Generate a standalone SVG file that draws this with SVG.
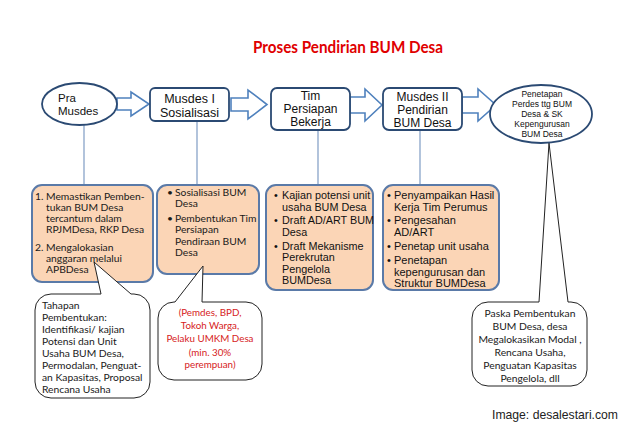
<svg xmlns="http://www.w3.org/2000/svg" width="640" height="428" viewBox="0 0 640 428">
<style>
.node{fill:#fff;stroke:#2b4a73;stroke-width:1.8}
.arr{fill:#fff;stroke:#4f81bd;stroke-width:1.6;stroke-linejoin:miter}
.conn{stroke:#7f9cc4;stroke-width:1.2;fill:none}
.box{fill:#fbd5b6;stroke:#5a7aa8;stroke-width:2}
.call{fill:#fff;stroke:#222;stroke-width:1}
.t{font-family:"Liberation Sans",Arial,sans-serif;fill:#111}
.c{font-family:Lato,"Open Sans",sans-serif;fill:#1a1a1a;font-size:10.3px}
.mid{text-anchor:middle}
</style>
<rect width="640" height="428" fill="#fff"/>
<text x="348" y="53" text-anchor="middle" font-family="Lato,'Liberation Sans',sans-serif" font-weight="bold" font-size="17.5" textLength="190" lengthAdjust="spacingAndGlyphs" fill="#e00000">Proses Pendirian BUM Desa</text>

<g id="connectors">
<line class="conn" x1="84" y1="125" x2="84" y2="186"/>
<line class="conn" x1="197" y1="121" x2="197" y2="186"/>
<line class="conn" x1="318" y1="130" x2="318" y2="186"/>
<line class="conn" x1="420" y1="130" x2="420" y2="186"/>
<path class="arr" d="M117,98 L131,98 L131,92 L149,104 L131,116 L131,110 L117,110 Z"/>
<path class="arr" d="M231,98 L248,98 L248,90 L267,104.5 L248,119 L248,111 L231,111 Z"/>
<path class="arr" d="M350,97 L365,97 L365,89 L382,105 L365,121 L365,113 L350,113 Z"/>
<path class="arr" d="M462,97 L478,97 L478,89 L496,105 L478,121 L478,113 L462,113 Z"/>
</g>

<g id="pra-musdes">
<ellipse class="node" cx="79.5" cy="104" rx="37.5" ry="21"/>
<text class="t" x="58" y="102" font-size="11.5">Pra</text>
<text class="t" x="58" y="115" font-size="11.5">Musdes</text>
</g>

<g id="musdes-1">
<rect class="node" x="150" y="88" width="79" height="33" rx="5"/>
<text class="t mid" x="189.5" y="102.5" font-size="12.5">Musdes I</text>
<text class="t mid" x="189.5" y="116.5" font-size="12.5">Sosialisasi</text>
</g>

<g id="tim-persiapan">
<rect class="node" x="271" y="88" width="79" height="42" rx="6"/>
<text class="t mid" x="310.5" y="100" font-size="12">Tim</text>
<text class="t mid" x="310.5" y="113" font-size="12">Persiapan</text>
<text class="t mid" x="310.5" y="126" font-size="12">Bekerja</text>
</g>

<g id="musdes-2">
<rect class="node" x="383" y="88" width="79" height="42" rx="6"/>
<text class="t mid" x="422.5" y="101" font-size="12">Musdes II</text>
<text class="t mid" x="422.5" y="114" font-size="12">Pendirian</text>
<text class="t mid" x="422.5" y="127" font-size="12">BUM Desa</text>
</g>

<g id="callout-paska">
<path class="call" d="M488,302 L539,302 L549,143 L568,302 L571,302 A16,16 0 0 1 587,318 L587,370 A16,16 0 0 1 571,386 L488,386 A16,16 0 0 1 472,370 L472,318 A16,16 0 0 1 488,302 Z"/>
<text class="c mid" x="530" y="317">Paska Pembentukan</text>
<text class="c mid" x="530" y="330">BUM Desa, desa</text>
<text class="c mid" x="530" y="343">Megalokasikan Modal ,</text>
<text class="c mid" x="530" y="356">Rencana Usaha,</text>
<text class="c mid" x="530" y="369">Penguatan Kapasitas</text>
<text class="c mid" x="530" y="382">Pengelola, dll</text>
</g>

<g id="penetapan">
<ellipse class="node" cx="541" cy="114" rx="51" ry="29" stroke-width="2"/>
<text class="t mid" x="542" y="97" font-size="8.5">Penetapan</text>
<text class="t mid" x="542" y="107" font-size="8.5">Perdes ttg BUM</text>
<text class="t mid" x="542" y="117" font-size="8.5">Desa &amp; SK</text>
<text class="t mid" x="542" y="127" font-size="8.5">Kepengurusan</text>
<text class="t mid" x="542" y="137" font-size="8.5">BUM Desa</text>
</g>

<g id="box-pra">
<rect class="box" x="32" y="185" width="121" height="97" rx="10"/>
<text class="c" x="35" y="200">1.</text>
<text class="c" x="46" y="200">Memastikan Pemben-</text>
<text class="c" x="46" y="211">tukan BUM Desa</text>
<text class="c" x="46" y="222">tercantum dalam</text>
<text class="c" x="46" y="233">RPJMDesa, RKP Desa</text>
<text class="c" x="35" y="251">2.</text>
<text class="c" x="46" y="251">Mengalokasian</text>
<text class="c" x="46" y="262">anggaran melalui</text>
<text class="c" x="46" y="273">APBDesa</text>
</g>

<g id="box-musdes-1">
<rect class="box" x="157" y="185" width="102" height="89" rx="10"/>
<text class="c" x="167" y="196">•</text>
<text class="c" x="175" y="196">Sosialisasi BUM</text>
<text class="c" x="175" y="207">Desa</text>
<text class="c" x="167" y="222">•</text>
<text class="c" x="175" y="222">Pembentukan Tim</text>
<text class="c" x="175" y="233">Persiapan</text>
<text class="c" x="175" y="245">Pendiraan BUM</text>
<text class="c" x="175" y="256">Desa</text>
</g>

<g id="box-tim">
<rect class="box" x="266" y="185" width="107" height="105" rx="10"/>
<g class="t" font-size="10.8">
<text x="274" y="199">•</text>
<text x="282" y="199">Kajian potensi unit</text>
<text x="282" y="211">usaha BUM Desa</text>
<text x="274" y="224">•</text>
<text x="282" y="224">Draft AD/ART BUM</text>
<text x="282" y="236">Desa</text>
<text x="274" y="250">•</text>
<text x="282" y="250">Draft Mekanisme</text>
<text x="282" y="261">Perekrutan</text>
<text x="282" y="273">Pengelola</text>
<text x="282" y="284">BUMDesa</text>
</g>
</g>

<g id="box-musdes-2">
<rect class="box" x="383" y="185" width="116" height="105" rx="10"/>
<g class="t" font-size="11">
<text x="387" y="199">•</text>
<text x="394" y="199">Penyampaikan Hasil</text>
<text x="394" y="211">Kerja Tim Perumus</text>
<text x="387" y="224">•</text>
<text x="394" y="224">Pengesahan</text>
<text x="394" y="236">AD/ART</text>
<text x="387" y="250">•</text>
<text x="394" y="250">Penetap unit usaha</text>
<text x="387" y="264">•</text>
<text x="394" y="264">Penetapan</text>
<text x="394" y="276">kepengurusan dan</text>
<text x="394" y="287">Struktur BUMDesa</text>
</g>
</g>

<g id="callout-tahapan">
<path class="call" d="M51,294 L101,294 L94,262 L131,294 L134,294 A16,16 0 0 1 150,310 L150,382 A16,16 0 0 1 134,398 L51,398 A16,16 0 0 1 35,382 L35,310 A16,16 0 0 1 51,294 Z"/>
<text class="c" x="42" y="309">Tahapan</text>
<text class="c" x="42" y="321">Pembentukan:</text>
<text class="c" x="42" y="333">Identifikasi/ kajian</text>
<text class="c" x="42" y="345">Potensi dan Unit</text>
<text class="c" x="42" y="357">Usaha BUM Desa,</text>
<text class="c" x="42" y="369">Permodalan, Penguat-</text>
<text class="c" x="42" y="381">an Kapasitas, Proposal</text>
<text class="c" x="42" y="393">Rencana Usaha</text>
</g>

<g id="callout-pelaku">
<path class="call" d="M174,302 L175,302 L203,266 L202,302 L246,302 A16,16 0 0 1 262,318 L262,364 A16,16 0 0 1 246,380 L174,380 A16,16 0 0 1 158,364 L158,318 A16,16 0 0 1 174,302 Z"/>
<g class="c mid" style="fill:#d62222;font-size:9.8px">
<text x="210" y="316">(Pemdes, BPD,</text>
<text x="210" y="329">Tokoh Warga,</text>
<text x="210" y="342">Pelaku UMKM Desa</text>
<text x="210" y="356">(min. 30%</text>
<text x="210" y="368">perempuan)</text>
</g>
</g>

<text x="492" y="419" font-family="'Liberation Sans',sans-serif" font-size="12.2" fill="#222">Image: desalestari.com</text>
</svg>
